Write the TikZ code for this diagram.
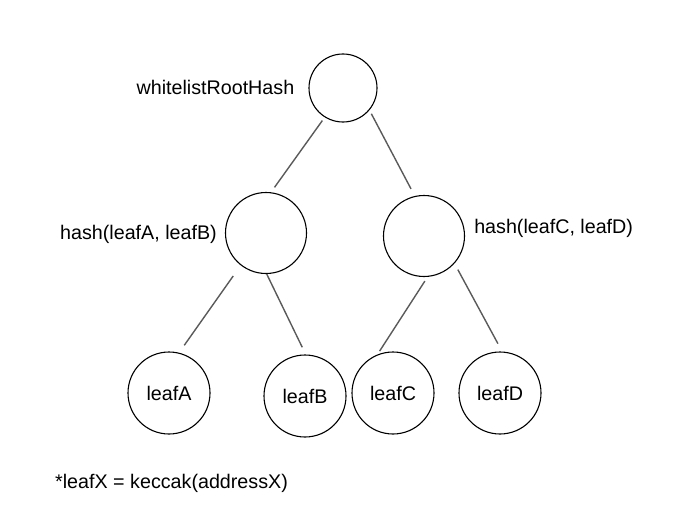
\documentclass[tikz,border=0pt]{standalone}
\usepackage{fontspec}
\setmainfont{Liberation Sans}
\usepackage{tikz}
\usetikzlibrary{positioning, shapes}
\definecolor{edgegray}{HTML}{5A5A5A}
\tikzstyle{roothash} = [circle, draw=black, line width=1.1pt, minimum size=68pt, inner sep=0pt]
\tikzstyle{hashnode} = [circle, draw=black, line width=1.1pt, minimum size=81pt, inner sep=0pt]
\tikzstyle{leaf} = [circle, draw=black, line width=1.1pt, minimum size=82pt, inner sep=0pt, font=\fontsize{19.7}{24}\selectfont]
\tikzstyle{lbl} = [inner sep=0pt, font=\fontsize{19.7}{24}\selectfont]
\tikzstyle{line} = [draw=edgegray, line width=1.4pt]
\begin{document}
\begin{tikzpicture}[x=1pt, y=-1pt]
	\useasboundingbox (0,0) rectangle (675,527);
	\node (root) [roothash] at (343,88) {};
	\node (midL) [hashnode, on grid, below left=145pt and 77pt of root] {};
	\node (midR) [hashnode, on grid, below right=148pt and 81pt of root] {};
	\node (leafA) [leaf, on grid, below left=160pt and 97pt of midL] {leafA};
	\node (leafB) [leaf, on grid, below right=163pt and 39pt of midL] {leafB};
	\node (leafC) [leaf, on grid, below left=157pt and 31pt of midR] {leafC};
	\node (leafD) [leaf, on grid, below right=157pt and 76pt of midR] {leafD};

	% Labels
	\node (rootlbl) [lbl, left=14pt of root, yshift=1pt] {whitelistRootHash};
	\node (midLlbl) [lbl, left=8pt of midL, yshift=-1pt] {hash(leafA, leafB)};
	\node (midRlbl) [lbl, right=9pt of midR, yshift=8pt] {hash(leafC, leafD)};
	\node (note) [lbl, anchor=west] at (55,483) {*leafX = keccak(addressX)};

	% Draw edges
	\path [line, shorten <=4pt, shorten >=6pt] (root.238) -- (midL.83);
	\path [line, shorten <=4pt, shorten >=8pt] (root.320) -- (midR.103);
	\path [line, shorten <=13pt, shorten >=9pt] (midL.232) -- (leafA.76);
	\path [line, shorten >=8pt] (midL.271) -- (leafB.89);
	\path [line, shorten <=5pt, shorten >=4pt] (midR.275) -- (leafC.112);
	\path [line, shorten <=7pt, shorten >=9pt] (midR.318) -- (leafD.87);
\end{tikzpicture}
\end{document}
